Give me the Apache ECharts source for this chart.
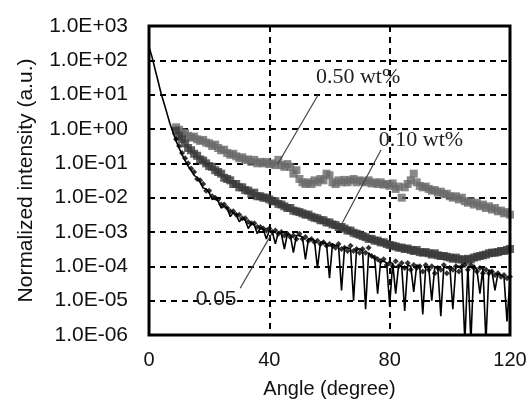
<!DOCTYPE html>
<html>
<head>
<meta charset="utf-8">
<script src="https://cdn.jsdelivr.net/npm/echarts@6/dist/echarts.min.js"></script>
<style>
html,body{margin:0;padding:0;background:#fff;}
#chart{width:530px;height:414px;}
</style>
</head>
<body>
<div id="chart"></div>
<script>
// ---------- data ----------
const xTicks = [0, 40, 80, 120];
const yTickLabels = ['1.0E-06','1.0E-05','1.0E-04','1.0E-03','1.0E-02','1.0E-01','1.0E+00','1.0E+01','1.0E+02','1.0E+03'];

// solid black trace (0 - 120 deg)
const lineAngles = [0,1,2,3,4,5,6,7,8,9,10,11,12,13,14,15,16,17,18,19,20,21,22,23,24,25,26,27,28,29,30,31,32,33,34,35,36,37,38,39,40,41,42,43,44,45,46,47,48,49,50,51,52,53,54,55,56,57,58,59,60,61,62,63,64,65,66,67,68,69,70,71,72,73,74,75,76,77,78,79,80,81,82,83,84,85,86,87,88,89,90,91,92,93,94,95,96,97,98,99,100,101,102,103,104,105,106,107,108,109,110,111,112,113,114,115,116,117,118,119,120];
const lineValues = [2.5e2,1.26e2,5.6e1,2.5e1,1.1e1,5.6,2.8,1.4,0.79,0.45,0.28,0.18,0.12,8.3e-2,6.3e-2,4.5e-2,3.8e-2,2.8e-2,1.9e-2,1.8e-2,
1.4e-2,8.9e-3,9.5e-3,7.9e-3,5.0e-3,5.6e-3,5.0e-3,2.8e-3,3.7e-3,3.2e-3,2.0e-3,2.5e-3,2.2e-3,1.26e-3,1.8e-3,1.6e-3,8.9e-4,1.3e-3,1.2e-3,6.3e-4,
1.1e-3,1.0e-3,4.5e-4,1.0e-3,8.9e-4,3.2e-4,8.9e-4,7.9e-4,2.5e-4,7.9e-4,7.9e-4,7.1e-4,1.6e-4,6.3e-4,6.3e-4,5.6e-4,8.9e-5,5.0e-4,5.0e-4,4.5e-4,
4.5e-5,4.5e-4,4.0e-4,4.0e-4,2.0e-5,3.5e-4,3.5e-4,3.2e-4,1.0e-5,3.2e-4,3.2e-4,2.8e-4,5.6e-6,2.5e-4,2.0e-4,1.8e-4,1.6e-5,1.4e-4,1.4e-4,1.26e-4,
7.1e-6,1.26e-4,1.6e-5,1.1e-4,1.0e-4,5.0e-6,1.1e-4,1.0e-4,1.8e-5,1.1e-4,1.0e-4,4.0e-6,1.0e-4,8.9e-5,1.0e-5,1.0e-4,8.9e-5,3.5e-6,1.0e-4,8.9e-5,
1.0e-4,5.6e-6,1.0e-4,1.0e-4,7.9e-5,6.3e-7,1.0e-4,6.3e-7,1.1e-4,7.9e-5,1.6e-5,8.9e-5,6.3e-7,7.9e-5,7.1e-5,2.0e-5,6.3e-5,5.6e-5,5.0e-5,2.5e-6,4.5e-5];

// marker series (9 - 120 deg)
const markerAngles = [9,10,11,12,13,14,15,16,17,18,19,20,21,22,23,24,25,26,27,28,29,30,31,32,33,34,35,36,37,38,39,40,41,42,43,44,45,46,47,48,49,50,51,52,53,54,55,56,57,58,59,60,61,62,63,64,65,66,67,68,69,70,71,72,73,74,75,76,77,78,79,80,81,82,83,84,85,86,87,88,89,90,91,92,93,94,95,96,97,98,99,100,101,102,103,104,105,106,107,108,109,110,111,112,113,114,115,116,117,118,119,120];

const values005 = [0.5,0.32,0.2,0.14,0.1,7.1e-2,5.6e-2,3.5e-2,3.2e-2,2.5e-2,1.6e-2,1.6e-2,1.1e-2,1.0e-2,8.9e-3,6.3e-3,6.3e-3,5.0e-3,4.0e-3,4.0e-3,
3.2e-3,3.2e-3,2.5e-3,2.5e-3,2.0e-3,1.8e-3,1.8e-3,1.4e-3,1.4e-3,1.26e-3,1.1e-3,1.26e-3,1.0e-3,1.1e-3,8.9e-4,1.0e-3,7.9e-4,8.9e-4,7.1e-4,7.9e-4,
6.3e-4,8.9e-4,6.3e-4,7.1e-4,5.6e-4,6.3e-4,5.0e-4,5.6e-4,4.5e-4,5.0e-4,4.0e-4,4.5e-4,4.0e-4,3.5e-4,4.5e-4,3.2e-4,3.5e-4,2.8e-4,4.0e-4,2.8e-4,
3.2e-4,2.5e-4,3.2e-4,2.5e-4,3.5e-4,2.0e-4,1.8e-4,1.6e-4,1.4e-4,1.6e-4,1.1e-4,1.26e-4,1.0e-4,1.4e-4,1.0e-4,1.26e-4,8.9e-5,1.26e-4,7.9e-5,1.1e-4,
8.9e-5,1.0e-4,7.1e-5,1.1e-4,7.9e-5,1.0e-4,6.3e-5,8.9e-5,7.9e-5,1.1e-4,6.3e-5,8.9e-5,7.9e-5,1.0e-4,7.1e-5,1.0e-4,1.1e-4,7.9e-5,1.1e-4,8.9e-5,
7.1e-5,8.9e-5,6.3e-5,7.9e-5,6.3e-5,7.1e-5,5.6e-5,6.3e-5,5.0e-5,5.6e-5,4.5e-5,5.0e-5];

const values010 = [0.89,0.63,0.5,0.38,0.28,0.24,0.19,0.166,0.13,0.12,0.1,8.3e-2,7.9e-2,6.3e-2,5.6e-2,5.0e-2,3.8e-2,3.5e-2,3.2e-2,2.5e-2,
2.5e-2,2.0e-2,2.0e-2,1.66e-2,1.6e-2,1.3e-2,1.4e-2,1.1e-2,1.1e-2,1.0e-2,1.0e-2,8.9e-3,7.9e-3,7.9e-3,6.6e-3,6.3e-3,5.6e-3,5.0e-3,5.0e-3,4.2e-3,
4.0e-3,3.8e-3,3.5e-3,3.2e-3,3.2e-3,2.8e-3,2.6e-3,2.5e-3,2.2e-3,2.2e-3,1.9e-3,1.9e-3,1.66e-3,1.6e-3,1.4e-3,1.4e-3,1.26e-3,1.1e-3,1.1e-3,9.5e-4,
8.9e-4,8.3e-4,7.6e-4,7.1e-4,6.3e-4,6.3e-4,5.6e-4,5.6e-4,5.0e-4,5.0e-4,4.5e-4,4.2e-4,4.0e-4,3.8e-4,3.5e-4,3.5e-4,3.2e-4,3.3e-4,3.0e-4,2.8e-4,
3.0e-4,2.6e-4,2.5e-4,2.6e-4,2.4e-4,2.2e-4,2.4e-4,2.1e-4,2.0e-4,2.0e-4,1.9e-4,1.8e-4,1.66e-4,1.8e-4,1.6e-4,1.6e-4,1.5e-4,1.66e-4,1.6e-4,1.8e-4,
1.9e-4,2.0e-4,2.1e-4,2.2e-4,2.4e-4,2.5e-4,2.5e-4,2.6e-4,2.8e-4,2.8e-4,3.0e-4,3.2e-4];

const values050 = [1.12,0.95,0.79,0.76,0.63,0.56,0.6,0.5,0.45,0.48,0.4,0.38,0.32,0.35,0.28,0.24,0.25,0.2,0.178,0.19,
0.16,0.14,0.15,0.126,0.13,0.11,0.126,0.1,0.11,0.1,0.11,9.5e-2,0.1,8.9e-2,0.126,8.9e-2,7.9e-2,9.5e-2,7.9e-2,5.0e-2,
6.3e-2,3.5e-2,2.8e-2,2.5e-2,2.8e-2,2.5e-2,3.2e-2,2.8e-2,3.5e-2,3.2e-2,5.0e-2,4.5e-2,2.8e-2,2.5e-2,3.2e-2,2.8e-2,3.3e-2,2.8e-2,3.2e-2,3.5e-2,
2.8e-2,3.2e-2,3.0e-2,2.8e-2,3.2e-2,2.6e-2,2.8e-2,2.5e-2,2.8e-2,2.4e-2,2.5e-2,2.2e-2,2.6e-2,1.8e-2,2.1e-2,1.0e-2,2.0e-2,2.5e-2,3.2e-2,5.0e-2,
2.8e-2,2.2e-2,2.0e-2,2.1e-2,1.8e-2,1.6e-2,1.66e-2,1.4e-2,1.5e-2,1.26e-2,1.3e-2,1.1e-2,1.0e-2,1.1e-2,8.9e-3,1.0e-2,7.9e-3,7.1e-3,7.9e-3,6.3e-3,
7.1e-3,5.6e-3,6.3e-3,5.0e-3,5.6e-3,4.5e-3,5.0e-3,4.0e-3,4.2e-3,3.5e-3,3.8e-3,3.2e-3];

// annotations: [text, textAngle, textValue, lineFromAngle, lineFromValue, lineToAngle, lineToValue, fontFamily]
const annotations = [
  ['0.50 wt%', 69.5, 32.7, 56.2, 9.8, 42.6, 0.089, 'Liberation Serif'],
  ['0.10 wt%', 90.4, 0.48, 77.1, 0.245, 63.2, 1.23e-3, 'Liberation Serif'],
  ['0.05', 22.3, 1.1e-5, 30.3, 2.3e-5, 40.9, 9.3e-4, 'Liberation Sans']
];

// ---------- chart ----------
const pair = (xs, ys) => xs.map((x, i) => [x, ys[i]]);
const chart = echarts.init(document.getElementById('chart'), null, {renderer: 'canvas'});
const font = 'Liberation Sans, Arial, sans-serif';

chart.setOption({
  animation: false,
  backgroundColor: '#fff',
  grid: {left: 149, top: 26, right: 20, bottom: 79, show: true, borderColor: '#000', borderWidth: 3, backgroundColor: 'transparent', z: 10},
  xAxis: {
    type: 'value', min: 0, max: 120, interval: 40,
    name: 'Angle (degree)', nameLocation: 'middle', nameGap: 44,
    nameTextStyle: {fontFamily: font, fontSize: 20, color: '#111'},
    axisLine: {show: false}, axisTick: {show: false},
    axisLabel: {fontFamily: font, fontSize: 20, color: '#111', margin: 15,
      formatter: v => xTicks.indexOf(v) >= 0 ? String(v) : ''},
    splitLine: {show: true, lineStyle: {color: '#000', width: 2, type: [6, 5]}}
  },
  yAxis: {
    type: 'log', logBase: 10, min: 1e-6, max: 1e3, splitNumber: 9,
    name: 'Normalized intensity (a.u.)', nameLocation: 'middle', nameGap: 112,
    nameTextStyle: {fontFamily: font, fontSize: 21, color: '#111'},
    axisLine: {show: false}, axisTick: {show: false},
    axisLabel: {fontFamily: font, fontSize: 21, color: '#111', margin: 21,
      formatter: v => yTickLabels[Math.round(Math.log10(v)) + 6]},
    splitLine: {show: true, lineStyle: {color: '#000', width: 2, type: [6, 5]}}
  },
  series: [
    {name: '0.50 wt%', type: 'scatter', data: pair(markerAngles, values050),
      symbol: 'rect', symbolSize: 8, itemStyle: {color: '#6a6a6a'}, z: 2},
    {name: '0.10 wt%', type: 'scatter', data: pair(markerAngles, values010),
      symbol: 'rect', symbolSize: 8, itemStyle: {color: '#3a3a3a'}, z: 3},
    {name: 'trace', type: 'line', data: pair(lineAngles, lineValues),
      showSymbol: false, symbol: 'none', lineStyle: {color: '#000', width: 1.6}, z: 4},
    {name: '0.05', type: 'scatter', data: pair(markerAngles, values005),
      symbol: 'diamond', symbolSize: 6, itemStyle: {color: '#000'}, z: 5}
  ]
});

const toPx = (a, v) => chart.convertToPixel({gridIndex: 0}, [a, v]);
const graphics = [];
annotations.forEach(([txt, ta, tv, fa, fv, la, lv, ff]) => {
  const p1 = toPx(fa, fv), p2 = toPx(la, lv), pt = toPx(ta, tv);
  graphics.push({type: 'line', shape: {x1: p1[0], y1: p1[1], x2: p2[0], y2: p2[1]},
    style: {stroke: '#444', lineWidth: 1.2}, z: 20});
  graphics.push({type: 'text', x: pt[0], y: pt[1], z: 20,
    style: {text: txt, fontFamily: ff, fontSize: ff.indexOf('Serif') >= 0 ? 22 : 21, fill: '#222', align: 'center', verticalAlign: 'middle'}});
});
chart.setOption({graphic: graphics});
</script>
</body>
</html>
